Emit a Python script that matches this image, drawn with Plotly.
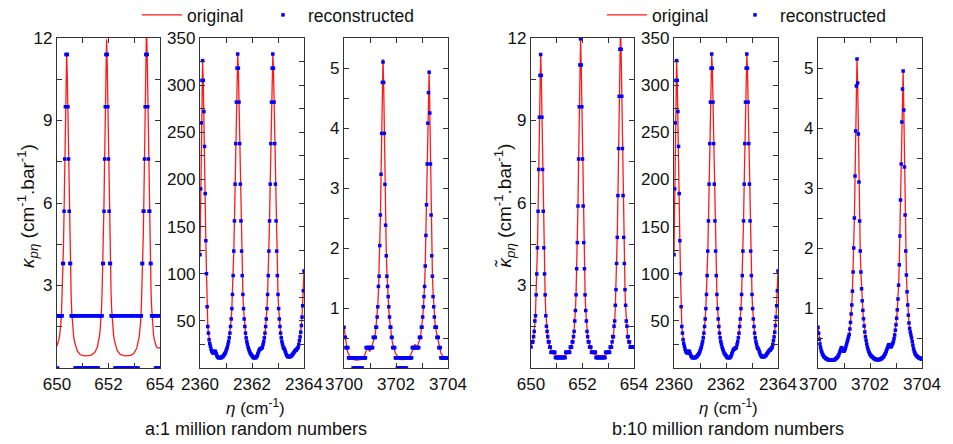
import numpy as np
import plotly.graph_objects as go

W, H = 953, 444
FONT = "Liberation Sans, Arial, sans-serif"


def fx(px):
    """pixel column -> paper x"""
    return px / W


def fy(py):
    """pixel row -> paper y"""
    return 1 - py / H


# wavenumber grids (cm^-1), 0.025 cm^-1 sampling
eta_650 = np.round(np.linspace(650, 654, 161), 3)
eta_2360 = np.round(np.linspace(2360, 2364, 161), 3)
eta_3700 = np.round(np.linspace(3700, 3704, 161), 3)

# original absorption coefficient, 650-654 cm^-1
orig_650 = [
    0.8, 0.86, 0.94, 1.04, 1.17, 1.36, 1.62, 2.0, 2.6, 3.4,
    4.4, 5.7, 7.3, 9.0, 10.6, 11.45, 10.6, 9.0, 7.3, 5.7,
    4.4, 3.4, 2.6, 2.0, 1.55, 1.3, 1.12, 0.98, 0.87, 0.78,
    0.71, 0.65, 0.6, 0.56, 0.53, 0.51, 0.49, 0.48, 0.47, 0.46,
    0.46, 0.45, 0.45, 0.44, 0.44, 0.44, 0.44, 0.44, 0.44, 0.45,
    0.45, 0.46, 0.46, 0.47, 0.48, 0.49, 0.5, 0.52, 0.55, 0.58,
    0.62, 0.67, 0.73, 0.8, 0.9, 1.02, 1.17, 1.38, 1.65, 2.1,
    2.7, 3.55, 4.6, 5.95, 7.6, 9.4, 11.05, 11.95, 11.05, 9.4,
    7.6, 5.95, 4.6, 3.55, 2.7, 2.1, 1.65, 1.38, 1.17, 1.02,
    0.9, 0.8, 0.73, 0.67, 0.62, 0.58, 0.55, 0.52, 0.5, 0.49,
    0.48, 0.47, 0.46, 0.45, 0.45, 0.44, 0.44, 0.44, 0.44, 0.44,
    0.44, 0.45, 0.45, 0.46, 0.46, 0.47, 0.48, 0.49, 0.51, 0.53,
    0.56, 0.59, 0.63, 0.68, 0.74, 0.82, 0.92, 1.05, 1.2, 1.43,
    1.72, 2.2, 2.85, 3.7, 4.8, 6.2, 7.9, 9.8, 11.5, 12.4,
    11.5, 9.8, 7.9, 6.2, 4.8, 3.7, 2.85, 2.2, 1.72, 1.43,
    1.2, 1.05, 0.94, 0.86, 0.8, 0.76, 0.73, 0.72, 0.72, 0.73, 0.75,
]

# original absorption coefficient, 2360-2364 cm^-1
orig_2360 = [
    120, 190, 260, 305, 326, 305, 272, 235, 185, 135,
    100, 65, 44, 37, 30, 26, 23, 20, 18, 17,
    16, 16, 17, 18, 17, 15, 13, 12, 11, 11,
    11, 11, 11, 11, 12, 12, 13, 14, 15, 16,
    18, 20, 22, 25, 28, 32, 37, 44, 52, 63,
    78, 98, 124, 156, 195, 238, 282, 318, 333, 318,
    282, 238, 195, 156, 124, 98, 78, 63, 52, 44,
    37, 32, 28, 25, 22, 20, 18, 16, 15, 14,
    13, 12, 11, 11, 11, 11, 11, 12, 13, 15,
    17, 19, 20, 20, 21, 21, 22, 25, 28, 32,
    37, 44, 52, 63, 78, 98, 124, 156, 195, 238,
    282, 318, 333, 318, 282, 238, 195, 156, 124, 98,
    78, 63, 52, 44, 37, 32, 28, 25, 22, 21,
    20, 18, 16, 14, 13, 12, 12, 12, 12, 12,
    13, 13, 14, 15, 16, 17, 18, 19, 19, 20,
    21, 22, 25, 29, 33, 38, 45, 54, 66, 82, 103,
]

# original absorption coefficient, 3700-3704 cm^-1
orig_3700 = [
    0.68, 0.58, 0.48, 0.4, 0.34, 0.29, 0.26, 0.23, 0.21, 0.19,
    0.18, 0.17, 0.16, 0.15, 0.15, 0.14, 0.14, 0.13, 0.13, 0.13,
    0.13, 0.13, 0.13, 0.13, 0.13, 0.14, 0.14, 0.15, 0.16, 0.17,
    0.18, 0.2, 0.22, 0.25, 0.28, 0.31, 0.34, 0.33, 0.3, 0.28,
    0.28, 0.3, 0.32, 0.36, 0.4, 0.44, 0.48, 0.52, 0.56, 0.65,
    0.76, 0.9, 1.05, 1.28, 1.6, 2.0, 2.5, 3.2, 3.95, 4.7,
    5.15, 4.75, 3.9, 3.1, 2.45, 1.95, 1.6, 1.32, 1.12, 0.96,
    0.82, 0.7, 0.6, 0.52, 0.46, 0.4, 0.35, 0.31, 0.28, 0.25,
    0.23, 0.21, 0.2, 0.19, 0.18, 0.17, 0.16, 0.15, 0.15, 0.14,
    0.14, 0.14, 0.14, 0.14, 0.14, 0.14, 0.15, 0.15, 0.16, 0.17,
    0.18, 0.19, 0.21, 0.23, 0.25, 0.28, 0.31, 0.34, 0.37, 0.39,
    0.38, 0.36, 0.35, 0.36, 0.39, 0.41, 0.44, 0.49, 0.55, 0.63,
    0.72, 0.83, 0.97, 1.15, 1.38, 1.72, 2.2, 2.8, 3.4, 4.1,
    4.65, 4.95, 4.3, 3.35, 2.55, 1.95, 1.55, 1.27, 1.05, 0.88,
    0.75, 0.66, 0.6, 0.55, 0.5, 0.44, 0.38, 0.32, 0.28, 0.25,
    0.23, 0.21, 0.2, 0.19, 0.18, 0.17, 0.17, 0.16, 0.16, 0.15, 0.15,
]

# reconstruction from 1 million random numbers
recon_a_650 = [
    1.9, 0, 1.9, 1.9, 1.9, 1.9, 1.9, 1.9, 1.9, 3.8,
    3.8, 5.7, 7.6, 9.5, 11.4, 11.4, 11.4, 9.5, 7.6, 5.7,
    3.8, 3.8, 1.9, 1.9, 1.9, 1.9, 1.9, 1.9, 0, 1.9,
    0, 1.9, 0, 1.9, 0, 1.9, 0, 1.9, 0, 1.9,
    0, 1.9, 0, 1.9, 0, 1.9, 0, 1.9, 0, 1.9,
    0, 1.9, 0, 1.9, 0, 1.9, 0, 1.9, 0, 1.9,
    0, 1.9, 0, 1.9, 0, 1.9, 1.9, 1.9, 1.9, 1.9,
    1.9, 3.8, 3.8, 5.7, 7.6, 9.5, 11.4, 11.4, 11.4, 9.5,
    7.6, 5.7, 3.8, 3.8, 1.9, 1.9, 1.9, 1.9, 1.9, 1.9,
    0, 1.9, 0, 1.9, 0, 1.9, 0, 1.9, 0, 1.9,
    0, 1.9, 0, 1.9, 0, 1.9, 0, 1.9, 0, 1.9,
    0, 1.9, 0, 1.9, 0, 1.9, 0, 1.9, 0, 1.9,
    0, 1.9, 0, 1.9, 0, 1.9, 0, 1.9, 1.9, 1.9,
    1.9, 1.9, 3.8, 3.8, 5.7, 5.7, 7.6, 9.5, 11.4, 11.4,
    11.4, 9.5, 7.6, 5.7, 5.7, 3.8, 3.8, 1.9, 1.9, 1.9,
    1.9, 1.9, 1.9, 0, 1.9, 0, 1.9, 0, 1.9, 0, 1.9,
]
recon_a_2360 = orig_2360
recon_a_3700 = [
    0.68, 0.51, 0.51, 0.34, 0.34, 0.34, 0.34, 0.17, 0.17, 0.17,
    0.17, 0.17, 0.17, 0.17, 0, 0.17, 0, 0.17, 0, 0.17,
    0, 0.17, 0, 0.17, 0, 0.17, 0, 0.17, 0, 0.17,
    0.17, 0.17, 0.17, 0.17, 0.34, 0.34, 0.34, 0.34, 0.34, 0.34,
    0.34, 0.34, 0.34, 0.34, 0.34, 0.51, 0.51, 0.51, 0.51, 0.68,
    0.68, 0.85, 1.02, 1.36, 1.53, 2.04, 2.55, 3.23, 3.91, 4.76,
    5.1, 4.76, 3.91, 3.06, 2.38, 1.87, 1.53, 1.36, 1.19, 1.02,
    0.85, 0.68, 0.68, 0.51, 0.51, 0.34, 0.34, 0.34, 0.34, 0.17,
    0.17, 0.17, 0, 0.17, 0, 0.17, 0, 0.17, 0, 0.17,
    0, 0.17, 0, 0.17, 0, 0.17, 0, 0.17, 0.17, 0.17,
    0.17, 0.17, 0.17, 0.17, 0.17, 0.34, 0.34, 0.34, 0.34, 0.34,
    0.34, 0.34, 0.34, 0.34, 0.34, 0.34, 0.51, 0.51, 0.51, 0.68,
    0.68, 0.85, 1.02, 1.19, 1.36, 1.7, 2.21, 2.72, 3.4, 4.08,
    4.59, 4.93, 4.25, 3.4, 2.55, 1.87, 1.53, 1.19, 1.02, 0.85,
    0.68, 0.68, 0.68, 0.51, 0.51, 0.51, 0.34, 0.34, 0.34, 0.17,
    0.17, 0.17, 0.17, 0.17, 0.17, 0.17, 0.17, 0.17, 0.17, 0.17, 0.17,
]

# reconstruction from 10 million random numbers
recon_b_650 = [
    0.76, 0.95, 0.95, 0.95, 1.14, 1.33, 1.71, 1.9, 2.66, 3.42,
    4.37, 5.7, 7.22, 9.12, 10.64, 11.4, 10.64, 9.12, 7.22, 5.7,
    4.37, 3.42, 2.66, 1.9, 1.52, 1.33, 1.14, 0.95, 0.95, 0.76,
    0.76, 0.57, 0.57, 0.57, 0.57, 0.57, 0.57, 0.57, 0.38, 0.38,
    0.38, 0.38, 0.38, 0.38, 0.38, 0.38, 0.38, 0.38, 0.38, 0.38,
    0.38, 0.38, 0.38, 0.38, 0.57, 0.57, 0.57, 0.57, 0.57, 0.57,
    0.57, 0.76, 0.76, 0.76, 0.95, 0.95, 1.14, 1.33, 1.71, 2.09,
    2.66, 3.61, 4.56, 5.89, 7.6, 9.5, 11.02, 11.97, 11.02, 9.5,
    7.6, 5.89, 4.56, 3.61, 2.66, 2.09, 1.71, 1.33, 1.14, 0.95,
    0.95, 0.76, 0.76, 0.76, 0.57, 0.57, 0.57, 0.57, 0.57, 0.57,
    0.57, 0.38, 0.38, 0.38, 0.38, 0.38, 0.38, 0.38, 0.38, 0.38,
    0.38, 0.38, 0.38, 0.38, 0.38, 0.38, 0.57, 0.57, 0.57, 0.57,
    0.57, 0.57, 0.57, 0.76, 0.76, 0.76, 0.95, 1.14, 1.14, 1.52,
    1.71, 2.28, 2.85, 3.8, 4.75, 6.27, 7.98, 9.88, 11.59, 12.35,
    11.59, 9.88, 7.98, 6.27, 4.75, 3.8, 2.85, 2.28, 1.71, 1.52,
    1.14, 1.14, 0.95, 0.95, 0.76, 0.76, 0.76, 0.76, 0.76, 0.76, 0.76,
]
recon_b_2360 = orig_2360
recon_b_3700 = orig_3700

# labelled ticks and the spacing of the unlabelled ones between them
x_labels = {
    "650": [650, 652, 654],
    "2360": [2360, 2362, 2364],
    "3700": [3700, 3702, 3704],
}
y_labels_650 = [3, 6, 9, 12]
y_labels_2360 = [50, 100, 150, 200, 250, 300, 350]
y_labels_3700 = [1, 2, 3, 4, 5]

panels = [
    # group a: 1 million random numbers
    dict(x=eta_650, orig=orig_650, recon=recon_a_650, xr=[650, 654], yr=[0, 12],
         xt=x_labels["650"], yt=y_labels_650, ym=1.5, px=(57, 160), lg=("legend", "legend2")),
    dict(x=eta_2360, orig=orig_2360, recon=recon_a_2360, xr=[2360, 2364], yr=[0, 350],
         xt=x_labels["2360"], yt=y_labels_2360, ym=25, px=(200, 304), lg=None),
    dict(x=eta_3700, orig=orig_3700, recon=recon_a_3700, xr=[3700, 3704], yr=[0, 5.5],
         xt=x_labels["3700"], yt=y_labels_3700, ym=0.5, px=(344, 448), lg=None),
    # group b: 10 million random numbers
    dict(x=eta_650, orig=orig_650, recon=recon_b_650, xr=[650, 654], yr=[0, 12],
         xt=x_labels["650"], yt=y_labels_650, ym=1.5, px=(531, 634), lg=("legend3", "legend4")),
    dict(x=eta_2360, orig=orig_2360, recon=recon_b_2360, xr=[2360, 2364], yr=[0, 350],
         xt=x_labels["2360"], yt=y_labels_2360, ym=25, px=(674, 778), lg=None),
    dict(x=eta_3700, orig=orig_3700, recon=recon_b_3700, xr=[3700, 3704], yr=[0, 5.5],
         xt=x_labels["3700"], yt=y_labels_3700, ym=0.5, px=(818, 922), lg=None),
]

PLOT_TOP, PLOT_BOTTOM = 38, 368
ydom = [fy(PLOT_BOTTOM), fy(PLOT_TOP)]

TICK_COLOR = "#333333"
axis_style = dict(
    showline=True, linecolor=TICK_COLOR, linewidth=1.3, mirror="ticks",
    ticks="inside", ticklen=5, tickwidth=1, tickcolor=TICK_COLOR,
    showgrid=False, zeroline=False, automargin=False, tickmode="array",
    tickfont=dict(family=FONT, size=17, color="#111111"),
)


def minor_ticks(tick0, dtick):
    return dict(tickmode="linear", tick0=tick0, dtick=dtick, ticks="inside",
                ticklen=5, tickwidth=1, tickcolor=TICK_COLOR, showgrid=False)


fig = go.Figure()
layout_axes = {}
for i, p in enumerate(panels, start=1):
    xa = "x" if i == 1 else f"x{i}"
    ya = "y" if i == 1 else f"y{i}"
    show = p["lg"] is not None
    lg_line, lg_mark = p["lg"] if show else ("legend", "legend")
    fig.add_trace(go.Scatter(
        x=p["x"], y=p["orig"], mode="lines", name="original",
        line=dict(color="#ff1a1a", width=1.3),
        xaxis=xa, yaxis=ya, legend=lg_line, showlegend=show,
    ))
    fig.add_trace(go.Scatter(
        x=p["x"], y=p["recon"], mode="markers", name="reconstructed",
        marker=dict(symbol="square", size=3.5, color="#0000ff", line=dict(width=0)),
        xaxis=xa, yaxis=ya, legend=lg_mark, showlegend=show,
    ))
    key = "" if i == 1 else str(i)
    layout_axes[f"xaxis{key}"] = dict(
        axis_style, domain=[fx(p["px"][0]), fx(p["px"][1])], range=p["xr"],
        tickvals=p["xt"], ticktext=[str(v) for v in p["xt"]], anchor=ya,
        minor=minor_ticks(p["xr"][0], 1),
    )
    layout_axes[f"yaxis{key}"] = dict(
        axis_style, domain=ydom, range=p["yr"],
        tickvals=p["yt"], ticktext=[f"{v:g}" for v in p["yt"]], anchor=xa,
        minor=minor_ticks(0, p["ym"]),
    )

ytitle_a = "<i>κ</i><sub><i>pη</i></sub> (cm<sup>-1</sup>.bar<sup>-1</sup>)"
ytitle_b = "<i>κ̃</i><sub><i>pη</i></sub> (cm<sup>-1</sup>.bar<sup>-1</sup>)"
xtitle = "<i>η</i> (cm<sup>-1</sup>)"


def ann(text, xpx, ypx, size, angle=0):
    return dict(text=text, x=fx(xpx), y=fy(ypx), xref="paper", yref="paper",
                xanchor="center", yanchor="middle", showarrow=False, textangle=angle,
                font=dict(family=FONT, size=size, color="#111111"))


annotations = [
    ann(ytitle_a, 28, 206, 19, -90),
    ann(ytitle_b, 505, 206, 19, -90),
    ann(xtitle, 255, 407, 17),
    ann(xtitle, 728, 407, 17),
    ann("a:1 million random numbers", 256, 429, 18),
    ann("b:10 million random numbers", 728, 429, 18),
]

legend_style = dict(
    orientation="h", xanchor="left", yanchor="top", y=fy(-3),
    bgcolor="rgba(0,0,0,0)", borderwidth=0, itemwidth=40,
    font=dict(family=FONT, size=17.5, color="#111111"),
)

fig.update_layout(
    width=W, height=H,
    margin=dict(l=0, r=0, t=0, b=0, pad=0, autoexpand=False),
    paper_bgcolor="white", plot_bgcolor="white",
    legend=dict(legend_style, x=fx(137)),
    legend2=dict(legend_style, x=fx(258)),
    legend3=dict(legend_style, x=fx(602)),
    legend4=dict(legend_style, x=fx(730)),
    annotations=annotations,
    **layout_axes,
)

fig.write_html("out.html")
